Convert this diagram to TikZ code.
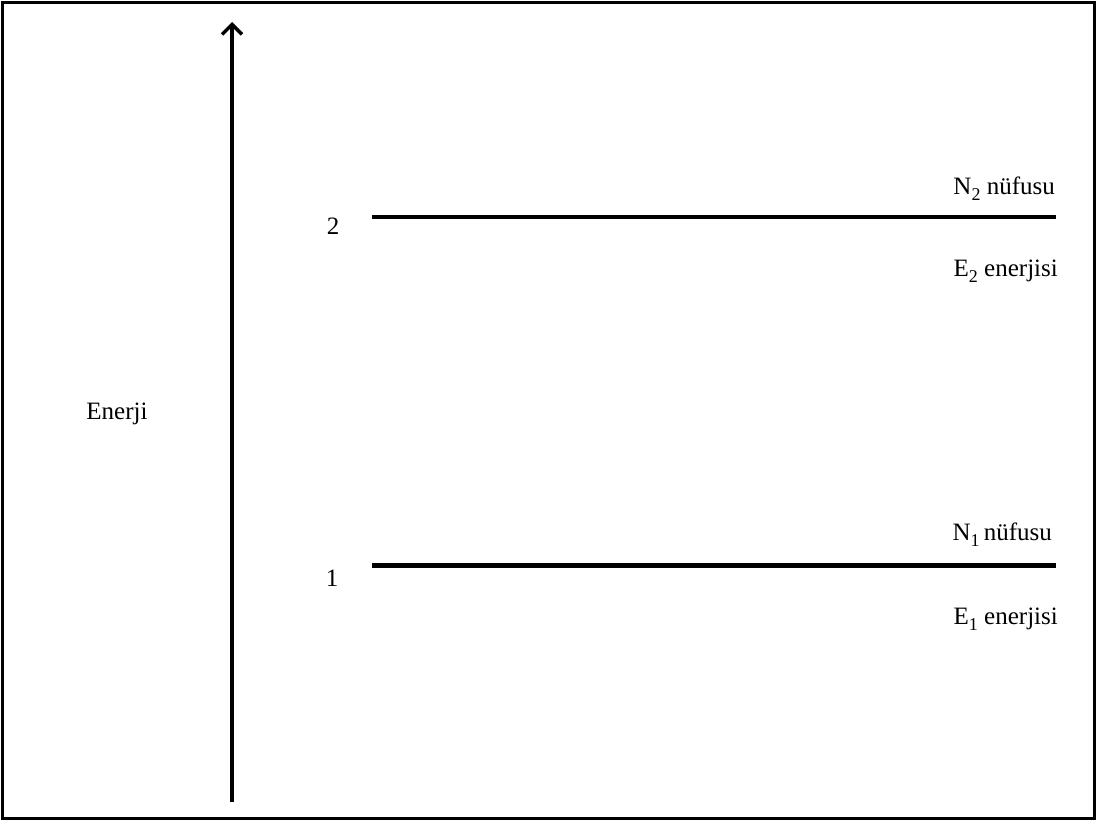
\documentclass[tikz,border=0pt]{standalone}
\usepackage{fontspec}
\setmainfont{Liberation Serif}
\usetikzlibrary{arrows.meta}
\newcommand{\lowsub}[1]{\raisebox{-0.27em}{\fontsize{18}{18}\selectfont #1}}
\tikzset{
  lbl/.style={font=\fontsize{25}{30}\selectfont, inner sep=0pt},
  level/.style={line width=4.5pt},
  axis/.style={line width=3.5pt, -{Straight Barb[length=10pt,width=20pt,line width=3.5pt]}},
  frame/.style={line width=3pt}
}
\begin{document}
\begin{tikzpicture}[x=1pt,y=-1pt]
\useasboundingbox (0,0) rectangle (1097,821);
\draw[frame] (2.5,2.5) rectangle (1094.5,818.5);
\coordinate (abot) at (232,802);
\coordinate (atop) at (232,22);
\draw[axis] (abot) -- (atop);
\coordinate (l2a) at (372,217);
\coordinate (l2b) at (1056,217);
\coordinate (l1a) at (372,565.5);
\coordinate (l1b) at (1056,565.5);
\draw[level] (l2a) -- (l2b);
\draw[level] (l1a) -- (l1b);
\node[lbl, anchor=base] (n2) at (333,234) {2};
\node[lbl, anchor=base] (n1) at (332,586) {1};
\node[lbl, anchor=base] (en) at (117,419) {Enerji};
\node[lbl, anchor=base east] (pop2) at (1055,194) {N\lowsub{2} nüfusu};
\node[lbl, anchor=base east] (ener2) at (1058,276) {E\lowsub{2} enerjisi};
\node[lbl, anchor=base east] (pop1) at (1052,540) {N\lowsub{1}\,nüfusu};
\node[lbl, anchor=base east] (ener1) at (1058,624) {E\lowsub{1} enerjisi};
\end{tikzpicture}
\end{document}
